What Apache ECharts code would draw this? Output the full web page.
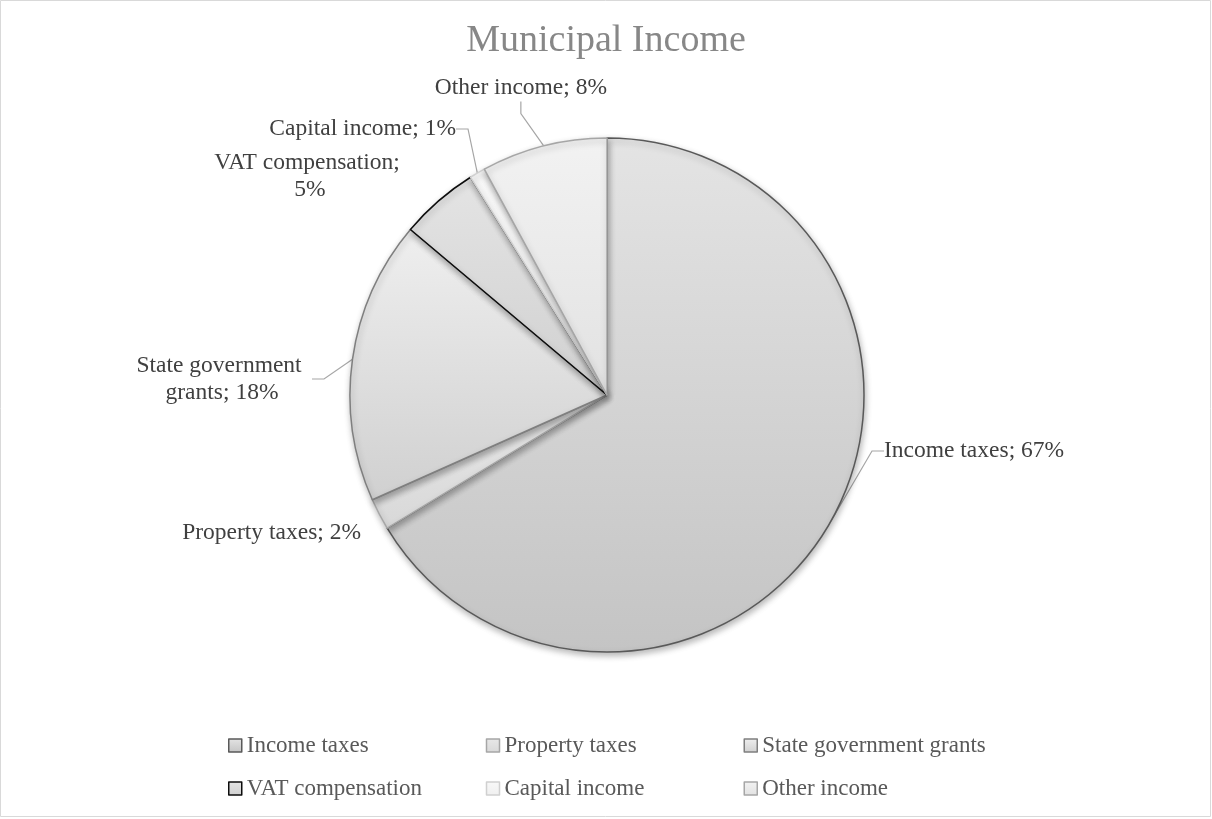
<!DOCTYPE html>
<html>
<head>
<meta charset="utf-8">
<title>Municipal Income</title>
<script src="https://cdn.jsdelivr.net/npm/echarts@6/dist/echarts.min.js"></script>
<style>
  html, body { margin: 0; padding: 0; background: #ffffff; }
  #chart { width: 1212px; height: 819px; }
</style>
</head>
<body>
<div id="chart"></div>
<script>
// Income sources and their shares of municipal income (percent)
const categories = ['Income taxes', 'Property taxes', 'State government grants', 'VAT compensation', 'Capital income', 'Other income'];
const shares = [67, 2, 18, 5, 1, 8];

// Per-slice look: gradient top/bottom and outline colour
const sliceStyles = [
  { top: '#e4e4e4', bottom: '#c4c4c4', border: '#595959' },
  { top: '#e8e8e8', bottom: '#d8d8d8', border: '#a6a6a6' },
  { top: '#efefef', bottom: '#d0d0d0', border: '#7f7f7f' },
  { top: '#e4e4e4', bottom: '#d0d0d0', border: '#0d0d0d' },
  { top: '#f8f8f8', bottom: '#f0f0f0', border: '#d0d0d0' },
  { top: '#f2f2f2', bottom: '#e2e2e2', border: '#a6a6a6' }
];

// Where each slice label sits (anchor point, alignment, optional wrap width, leader line)
const labelSpots = [
  { x: 884, y: 451, align: 'left', line: true },
  { x: 361, y: 533, align: 'right', line: false },
  { x: 222, y: 379, align: 'center', width: 180, line: true },
  { x: 310, y: 176, align: 'center', width: 200, line: false },
  { x: 456, y: 129, align: 'right', line: true },
  { x: 607, y: 88, align: 'right', line: true }
];

const serif = '"Liberation Serif", "Times New Roman", serif';

const pieData = categories.map(function (name, i) {
  const s = sliceStyles[i];
  const spot = labelSpots[i];
  const label = { align: spot.align };
  if (spot.width) { label.width = spot.width; label.overflow = 'break'; }
  return {
    name: name,
    value: shares[i],
    itemStyle: {
      color: new echarts.graphic.LinearGradient(0, 0, 0, 1, [
        { offset: 0, color: s.top },
        { offset: 1, color: s.bottom }
      ]),
      borderColor: s.border
    },
    label: label,
    labelLine: { show: spot.line }
  };
});

const chart = echarts.init(document.getElementById('chart'), null, { renderer: 'canvas' });

chart.setOption({
  backgroundColor: '#ffffff',
  animation: false,
  title: {
    text: 'Municipal Income',
    left: 'center',
    top: 19,
    padding: 0,
    textStyle: {
      fontFamily: serif,
      fontSize: 38,
      fontWeight: 'normal',
      color: '#878787',
      lineHeight: 44
    }
  },
  legend: {
    data: categories,
    left: 228,
    top: 734,
    padding: 0,
    width: 775,
    icon: 'rect',
    itemWidth: 13,
    itemHeight: 13,
    itemGap: 20,
    selectedMode: false,
    itemStyle: { borderWidth: 1.5 },
    textStyle: {
      fontFamily: serif,
      fontSize: 23,
      color: '#595959',
      width: 219,
      lineHeight: 20
    }
  },
  graphic: [{
    type: 'rect',
    silent: true,
    shape: { x: 0.5, y: 0.5, width: 1210, height: 816 },
    style: { fill: null, stroke: '#d9d9d9', lineWidth: 1 }
  }],
  series: [{
    type: 'pie',
    center: [607, 395],
    radius: [0, 257],
    startAngle: 90,
    clockwise: true,
    avoidLabelOverlap: false,
    itemStyle: {
      borderWidth: 1.5,
      shadowColor: 'rgba(0,0,0,0.28)',
      shadowBlur: 6,
      shadowOffsetX: 1,
      shadowOffsetY: 3
    },
    label: {
      show: true,
      position: 'outside',
      formatter: '{b}; {c}%',
      fontFamily: serif,
      fontSize: 23.5,
      lineHeight: 27,
      color: '#404040'
    },
    labelLine: {
      show: true,
      length: 14,
      length2: 12,
      lineStyle: { color: '#a6a6a6', width: 1.2 }
    },
    labelLayout: function (params) {
      const p = labelSpots[params.dataIndex];
      return { x: p.x, y: p.y, align: p.align, verticalAlign: 'middle' };
    },
    emphasis: { disabled: true },
    data: pieData
  }]
});
</script>
</body>
</html>
